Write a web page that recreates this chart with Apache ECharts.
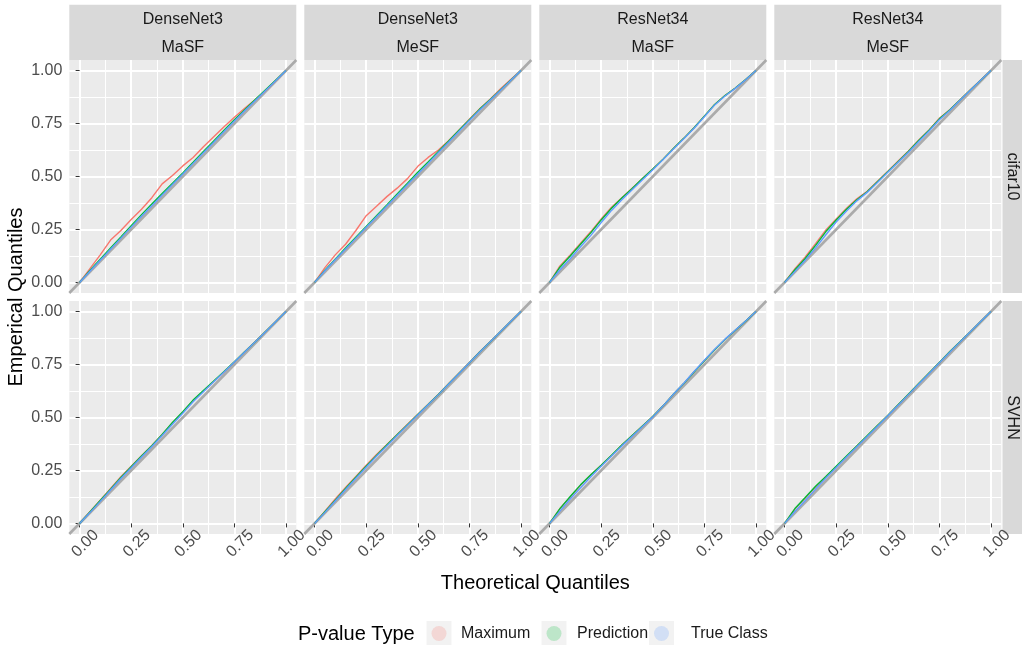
<!DOCTYPE html>
<html>
<head>
<meta charset="utf-8">
<script src="https://cdn.jsdelivr.net/npm/echarts@6/dist/echarts.min.js"></script>
<style>
  html, body { margin: 0; padding: 0; background: #fff; }
  #chart { width: 1022px; height: 645px; }
</style>
</head>
<body>
<div id="chart"></div>
<script>
// facet labels
const colModels = ['DenseNet3', 'DenseNet3', 'ResNet34', 'ResNet34'];
const colMethods = ['MaSF', 'MeSF', 'MaSF', 'MeSF'];
const rowDatasets = ['cifar10', 'SVHN'];
const typeNames = ['Maximum', 'Prediction', 'True Class'];
const typeColors = ['#F8766D', '#00BA38', '#619CFF'];

// theoretical quantiles (x) shared by every curve
const theo = [0, 0.05, 0.1, 0.15, 0.2, 0.25, 0.3, 0.35, 0.4, 0.45, 0.5,
  0.55, 0.6, 0.65, 0.7, 0.75, 0.8, 0.85, 0.9, 0.95, 1];
const majorTicks = [0, 0.25, 0.5, 0.75, 1];
const minorTicks = [0.125, 0.375, 0.625, 0.875];
const diagonal = [-0.05, 1.05];

// empirical quantiles, one list per column (DenseNet3 MaSF, DenseNet3 MeSF, ResNet34 MaSF, ResNet34 MeSF)
const maximumCifar10 = [
  [0, 0.065, 0.13, 0.2, 0.245, 0.297, 0.345, 0.4, 0.465, 0.505, 0.55, 0.59, 0.64, 0.688, 0.735, 0.78, 0.822, 0.862, 0.905, 0.952, 1],
  [0, 0.07, 0.13, 0.18, 0.245, 0.315, 0.36, 0.405, 0.445, 0.49, 0.548, 0.59, 0.625, 0.67, 0.72, 0.77, 0.82, 0.865, 0.913, 0.958, 1],
  [0, 0.078, 0.13, 0.185, 0.24, 0.3, 0.355, 0.4, 0.445, 0.49, 0.535, 0.582, 0.632, 0.68, 0.73, 0.785, 0.84, 0.882, 0.918, 0.958, 1],
  [0, 0.065, 0.12, 0.183, 0.248, 0.3, 0.35, 0.395, 0.43, 0.478, 0.525, 0.573, 0.62, 0.672, 0.72, 0.775, 0.815, 0.862, 0.91, 0.955, 1]
];
const predictionCifar10 = [
  [0, 0.056, 0.11, 0.163, 0.215, 0.268, 0.32, 0.37, 0.42, 0.468, 0.517, 0.567, 0.618, 0.668, 0.718, 0.768, 0.815, 0.862, 0.908, 0.954, 1],
  [0, 0.058, 0.11, 0.162, 0.213, 0.264, 0.315, 0.366, 0.418, 0.468, 0.52, 0.568, 0.618, 0.668, 0.718, 0.768, 0.818, 0.862, 0.908, 0.954, 1],
  [0, 0.072, 0.125, 0.18, 0.235, 0.295, 0.35, 0.398, 0.443, 0.49, 0.535, 0.582, 0.632, 0.68, 0.73, 0.785, 0.84, 0.882, 0.918, 0.958, 1],
  [0, 0.06, 0.113, 0.175, 0.24, 0.295, 0.345, 0.39, 0.428, 0.475, 0.522, 0.57, 0.618, 0.67, 0.718, 0.772, 0.814, 0.861, 0.908, 0.954, 1]
];
const trueClassCifar10 = [
  [0, 0.053, 0.105, 0.157, 0.209, 0.261, 0.312, 0.362, 0.413, 0.462, 0.512, 0.562, 0.612, 0.662, 0.712, 0.762, 0.81, 0.858, 0.905, 0.952, 1],
  [0, 0.055, 0.107, 0.158, 0.209, 0.26, 0.31, 0.361, 0.411, 0.462, 0.512, 0.562, 0.613, 0.663, 0.714, 0.764, 0.814, 0.86, 0.906, 0.953, 1],
  [0, 0.06, 0.112, 0.168, 0.222, 0.283, 0.34, 0.39, 0.438, 0.485, 0.532, 0.58, 0.63, 0.678, 0.728, 0.782, 0.838, 0.88, 0.916, 0.957, 1],
  [0, 0.052, 0.105, 0.163, 0.225, 0.285, 0.337, 0.385, 0.425, 0.472, 0.52, 0.567, 0.615, 0.665, 0.715, 0.768, 0.812, 0.86, 0.907, 0.954, 1]
];
const maximumSVHN = [
  [0, 0.055, 0.11, 0.165, 0.22, 0.27, 0.32, 0.368, 0.42, 0.475, 0.525, 0.58, 0.625, 0.67, 0.715, 0.762, 0.81, 0.858, 0.905, 0.952, 1],
  [0, 0.058, 0.115, 0.17, 0.222, 0.275, 0.325, 0.372, 0.42, 0.468, 0.515, 0.562, 0.61, 0.66, 0.71, 0.76, 0.81, 0.858, 0.905, 0.953, 1],
  [0, 0.07, 0.125, 0.18, 0.23, 0.275, 0.32, 0.37, 0.415, 0.46, 0.505, 0.555, 0.61, 0.66, 0.715, 0.768, 0.82, 0.868, 0.912, 0.955, 1],
  [0, 0.068, 0.12, 0.172, 0.22, 0.268, 0.316, 0.365, 0.413, 0.462, 0.51, 0.56, 0.61, 0.66, 0.71, 0.76, 0.81, 0.858, 0.905, 0.953, 1]
];
const predictionSVHN = [
  [0, 0.054, 0.108, 0.162, 0.217, 0.268, 0.318, 0.367, 0.42, 0.476, 0.527, 0.582, 0.627, 0.672, 0.717, 0.763, 0.81, 0.857, 0.905, 0.952, 1],
  [0, 0.055, 0.11, 0.165, 0.218, 0.27, 0.321, 0.37, 0.418, 0.466, 0.514, 0.561, 0.609, 0.659, 0.709, 0.759, 0.809, 0.857, 0.905, 0.953, 1],
  [0, 0.07, 0.127, 0.182, 0.23, 0.275, 0.322, 0.37, 0.415, 0.46, 0.505, 0.555, 0.61, 0.66, 0.715, 0.768, 0.82, 0.868, 0.912, 0.955, 1],
  [0, 0.07, 0.122, 0.175, 0.222, 0.27, 0.318, 0.366, 0.414, 0.462, 0.51, 0.56, 0.61, 0.66, 0.71, 0.76, 0.81, 0.858, 0.905, 0.953, 1]
];
const trueClassSVHN = [
  [0, 0.051, 0.104, 0.158, 0.212, 0.263, 0.314, 0.363, 0.415, 0.468, 0.52, 0.574, 0.622, 0.669, 0.715, 0.762, 0.809, 0.856, 0.904, 0.952, 1],
  [0, 0.052, 0.106, 0.16, 0.213, 0.265, 0.317, 0.366, 0.415, 0.464, 0.512, 0.56, 0.608, 0.658, 0.708, 0.758, 0.808, 0.857, 0.905, 0.953, 1],
  [0, 0.058, 0.115, 0.168, 0.22, 0.27, 0.318, 0.366, 0.412, 0.458, 0.503, 0.555, 0.61, 0.662, 0.717, 0.77, 0.822, 0.87, 0.913, 0.956, 1],
  [0, 0.056, 0.108, 0.162, 0.214, 0.264, 0.313, 0.362, 0.41, 0.459, 0.508, 0.558, 0.608, 0.658, 0.708, 0.758, 0.808, 0.857, 0.905, 0.953, 1]
];

const byRow = [
  [maximumCifar10, predictionCifar10, trueClassCifar10],
  [maximumSVHN, predictionSVHN, trueClassSVHN]
];

// layout (px)
const colLeft = [69.3, 304.3, 539.3, 774.3];
const rowTop = [60, 301];
const panelW = 227, panelH = 233;
const font = 'Liberation Sans, Arial, sans-serif';

const grid = [], xAxis = [], yAxis = [], series = [], graphic = [];
const nPanels = 8;

for (let r = 0; r < 2; r++) {
  for (let c = 0; c < 4; c++) {
    const idx = r * 4 + c;
    grid.push({
      left: colLeft[c], top: rowTop[r], width: panelW, height: panelH,
      show: true, backgroundColor: '#EBEBEB', borderWidth: 0
    });
    // major axes
    xAxis.push({
      gridIndex: idx, type: 'value', min: -0.05, max: 1.05,
      axisLine: { show: false },
      axisTick: { show: r === 1, customValues: majorTicks, length: 4, lineStyle: { color: '#333333', width: 1 } },
      axisLabel: {
        show: r === 1, customValues: majorTicks, rotate: 45, margin: 4,
        align: 'center', verticalAlign: 'top',
        formatter: v => v.toFixed(2), color: '#4D4D4D', fontSize: 16, fontFamily: font
      },
      splitLine: { show: true, lineStyle: { color: '#FFFFFF', width: 2 } }
    });
    yAxis.push({
      gridIndex: idx, type: 'value', min: -0.05, max: 1.05,
      axisLine: { show: false },
      axisTick: { show: c === 0, customValues: majorTicks, length: 4, lineStyle: { color: '#333333', width: 1 } },
      axisLabel: {
        show: c === 0, customValues: majorTicks, margin: 7,
        formatter: v => v.toFixed(2), color: '#4D4D4D', fontSize: 16, fontFamily: font
      },
      splitLine: { show: true, lineStyle: { color: '#FFFFFF', width: 2 } }
    });

    // ref line y = x
    series.push({
      type: 'line', xAxisIndex: idx, yAxisIndex: idx, silent: true,
      data: diagonal.map(v => [v, v]), symbol: 'none', z: 2,
      lineStyle: { color: '#ABABAB', width: 2.6 }
    });
    byRow[r].forEach((arr, k) => {
      series.push({
        name: typeNames[k], type: 'line', xAxisIndex: idx, yAxisIndex: idx,
        data: theo.map((t, i) => [t, arr[c][i]]), symbol: 'none', z: 3,
        lineStyle: { color: typeColors[k], width: 1.4 }
      });
    });
  }
}

// minor grid axes
for (let idx = 0; idx < nPanels; idx++) {
  const minor = {
    gridIndex: idx, type: 'value', min: -0.05, max: 1.05,
    axisLine: { show: false },
    axisTick: { show: false, customValues: minorTicks },
    axisLabel: { show: false, customValues: minorTicks },
    splitLine: { show: true, lineStyle: { color: '#FFFFFF', width: 1 } }
  };
  xAxis.push(Object.assign({}, minor));
  yAxis.push(Object.assign({}, minor));
}

// strips on top
colModels.forEach((m, c) => {
  graphic.push({ type: 'rect', shape: { x: colLeft[c], y: 4.7, width: panelW, height: 55.3 }, style: { fill: '#D9D9D9' }, silent: true });
  graphic.push({ type: 'text', x: colLeft[c] + panelW / 2, y: 20, style: { text: m, font: '16px ' + font, fill: '#1A1A1A', textAlign: 'center', textVerticalAlign: 'middle' } });
  graphic.push({ type: 'text', x: colLeft[c] + panelW / 2, y: 48, style: { text: colMethods[c], font: '16px ' + font, fill: '#1A1A1A', textAlign: 'center', textVerticalAlign: 'middle' } });
});
// strips on the right
rowDatasets.forEach((d, r) => {
  graphic.push({ type: 'rect', shape: { x: 1002.5, y: rowTop[r], width: 22, height: panelH }, style: { fill: '#D9D9D9' }, silent: true });
  graphic.push({ type: 'text', x: 1012, y: rowTop[r] + panelH / 2, rotation: -Math.PI / 2, style: { text: d, font: '16px ' + font, fill: '#1A1A1A', textAlign: 'center', textVerticalAlign: 'middle' } });
});

// axis titles
graphic.push({ type: 'text', x: 535.3, y: 583, style: { text: 'Theoretical Quantiles', font: '20px ' + font, fill: '#000', textAlign: 'center', textVerticalAlign: 'middle' } });
graphic.push({ type: 'text', x: 16, y: 297, rotation: Math.PI / 2, style: { text: 'Emperical Quantiles', font: '20px ' + font, fill: '#000', textAlign: 'center', textVerticalAlign: 'middle' } });

// legend
const keyX = [426.5, 541.5, 649];
const labelX = [461, 577, 691];
const keyFill = ['rgba(248,118,109,0.22)', 'rgba(0,186,56,0.22)', 'rgba(97,156,255,0.22)'];
graphic.push({ type: 'text', x: 298, y: 634, style: { text: 'P-value Type', font: '20px ' + font, fill: '#000', textAlign: 'left', textVerticalAlign: 'middle' } });
typeNames.forEach((n, k) => {
  graphic.push({ type: 'rect', shape: { x: keyX[k], y: 621, width: 25, height: 25 }, style: { fill: '#F2F2F2' }, silent: true });
  graphic.push({ type: 'circle', shape: { cx: keyX[k] + 12.5, cy: 633.5, r: 7.5 }, style: { fill: keyFill[k] }, silent: true });
  graphic.push({ type: 'text', x: labelX[k], y: 634, style: { text: n, font: '16px ' + font, fill: '#1A1A1A', textAlign: 'left', textVerticalAlign: 'middle' } });
});

const chart = echarts.init(document.getElementById('chart'), null, { renderer: 'canvas' });
chart.setOption({
  animation: false,
  backgroundColor: '#FFFFFF',
  textStyle: { fontFamily: font },
  grid, xAxis, yAxis, series, graphic
});
</script>
</body>
</html>
